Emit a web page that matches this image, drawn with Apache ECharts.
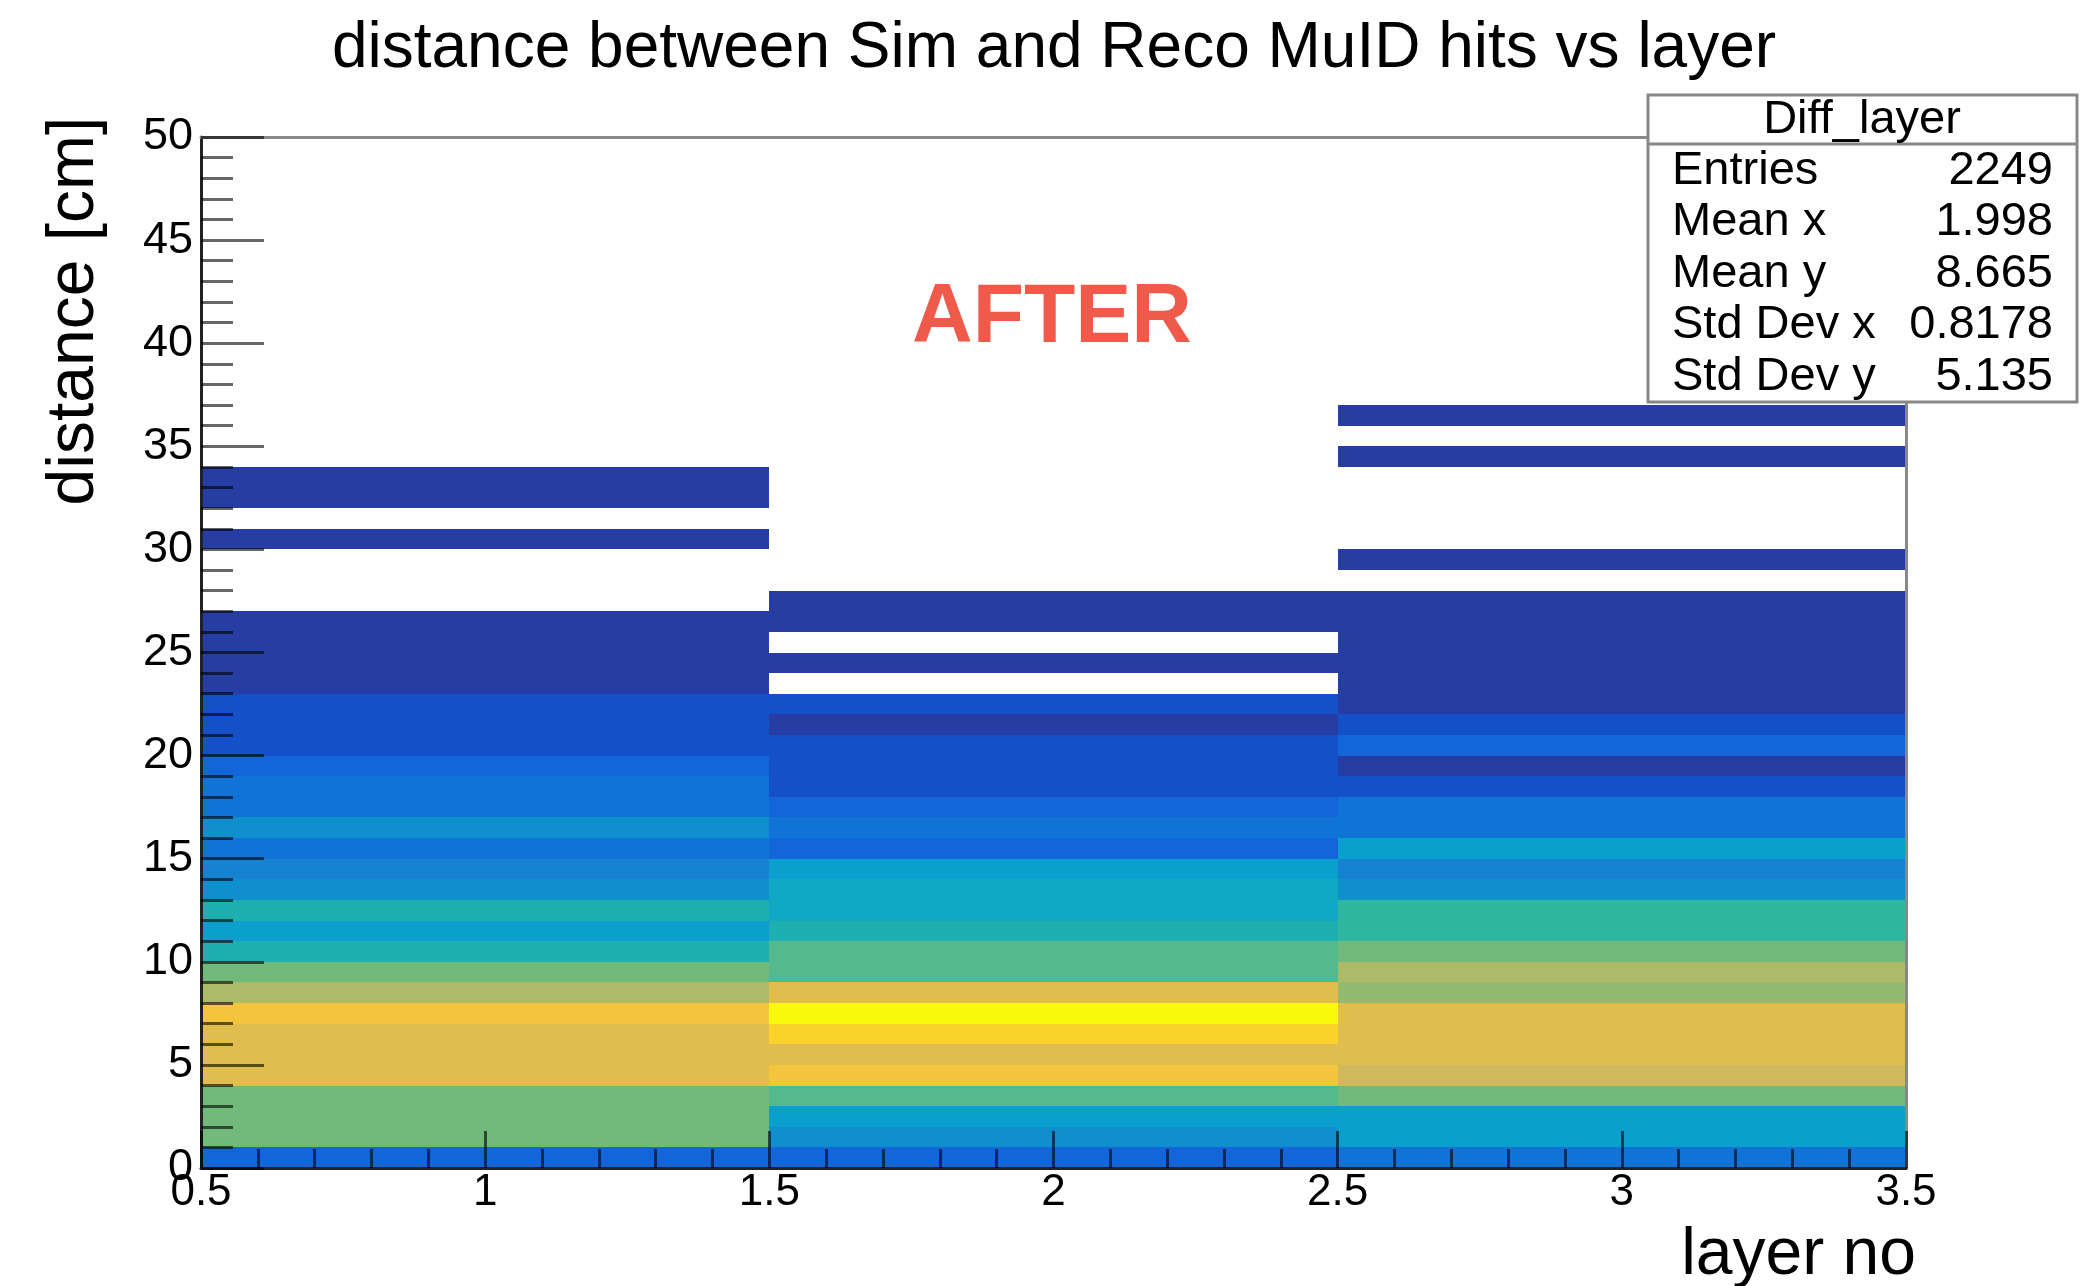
<!DOCTYPE html>
<html>
<head>
<meta charset="utf-8">
<script src="https://cdn.jsdelivr.net/npm/echarts@6/dist/echarts.min.js"></script>
<style>
html,body{margin:0;padding:0;background:#fff;}
#chart{width:2084px;height:1286px;}
</style>
</head>
<body>
<div id="chart"></div>
<script>
// ---------------- data ----------------
const chartTitle = 'distance between Sim and Reco MuID hits vs layer';
const xTitle = 'layer no';
const yTitle = 'distance [cm]';
const overlayText = 'AFTER';
const layers = [1, 2, 3];            // x-bin centres (bin width 1)
const distBinWidth = 1;              // y-bin width [cm], bins start at 0
// entries per 1-cm distance bin (bins 0..49) for each layer
const countsLayer1 = [10,48,49,47,65,64,66,70,57,48, 36,27,35,23,19,15,22,14,15,11, 6,7,5,3,2,3,2,0,0,0, 1,0,2,1,0,0,0,0,0,0, 0,0,0,0,0,0,0,0,0,0];
const countsLayer2 = [10,23,27,44,69,64,74,83,65,45, 43,36,32,31,27,11,14,10,6,7, 5,3,5,0,2,0,1,2,0,0, 0,0,0,0,0,0,0,0,0,0, 0,0,0,0,0,0,0,0,0,0];
const countsLayer3 = [15,27,28,48,61,65,66,64,53,57, 49,40,39,23,19,27,15,14,6,3, 10,6,3,2,3,2,2,1,0,1, 0,0,0,0,1,0,1,0,0,0, 0,0,0,0,0,0,0,0,0,0];
const statsName = 'Diff_layer';
const statsLabels = ['Entries', 'Mean x', 'Mean y', 'Std Dev x', 'Std Dev y'];
const statsValues = ['2249', '1.998', '8.665', '0.8178', '5.135'];
const zMax = 84;
const nContours = 20;
// ROOT kBird palette sampled at the 20 contour levels
const palette = ['#263ea3','#1450c8','#1266d9','#1273d6','#1583d2','#108fcf','#0a9fcc','#11a8c6','#1eafb0','#2fb7a0',
                 '#52ba8c','#72ba7c','#92bb70','#adba67','#d0b95c','#e0bd4d','#f3c43c','#fbd22c','#fbe61d','#f9f90e'];
// ---------------------------------------

const allCounts = [countsLayer1, countsLayer2, countsLayer3];
const cells = [];
layers.forEach(function (lx, i) {
  allCounts[i].forEach(function (c, b) {
    if (c > 0) cells.push([lx, b * distBinWidth, c]);
  });
});

const pieces = [];
const step = zMax / nContours;
for (let i = 0; i < nContours; i++) {
  const p = { gte: i * step, color: palette[i] };
  if (i < nContours - 1) p.lt = (i + 1) * step; else p.lte = zMax;
  pieces.push(p);
}

const FONT = 'Liberation Sans, Arial, Helvetica, sans-serif';
const chart = echarts.init(document.getElementById('chart'));
const tickStyle = { color: 'rgba(0,0,0,0.6)', width: 3 };

chart.setOption({
  animation: false,
  backgroundColor: '#ffffff',
  grid: { left: 201, right: 178, top: 137, bottom: 118, containLabel: false, outerBoundsMode: 'none', show: false },
  visualMap: { type: 'piecewise', show: false, seriesIndex: 0, dimension: 2, pieces: pieces },
  xAxis: [{
    type: 'value', min: 0.5, max: 3.5, interval: 0.5, position: 'bottom', z: 10,
    axisLine: { show: true, onZero: false, lineStyle: { color: '#222', width: 3 } },
    axisTick: { show: true, inside: true, length: 37, lineStyle: tickStyle },
    minorTick: { show: true, splitNumber: 5, length: 19, lineStyle: tickStyle },
    splitLine: { show: false }, minorSplitLine: { show: false },
    axisLabel: { show: true, fontSize: 44, color: '#000', fontFamily: FONT, margin: 3, showMinLabel: true, showMaxLabel: true }
  }, {
    type: 'value', min: 0.5, max: 3.5, position: 'top', z: 10,
    axisLine: { show: true, onZero: false, lineStyle: { color: '#888', width: 3 } },
    axisTick: { show: false }, axisLabel: { show: false }, splitLine: { show: false }
  }],
  yAxis: [{
    type: 'value', min: 0, max: 50, interval: 5, position: 'left', z: 10,
    axisLine: { show: true, onZero: false, lineStyle: { color: '#222', width: 3 } },
    axisTick: { show: true, inside: true, length: 63, lineStyle: tickStyle },
    minorTick: { show: true, splitNumber: 5, length: 32, lineStyle: tickStyle },
    splitLine: { show: false }, minorSplitLine: { show: false },
    axisLabel: { show: true, fontSize: 45, color: '#000', fontFamily: FONT, margin: 8, showMinLabel: true, showMaxLabel: true }
  }, {
    type: 'value', min: 0, max: 50, position: 'right', z: 10,
    axisLine: { show: true, onZero: false, lineStyle: { color: '#888', width: 3 } },
    axisTick: { show: false }, axisLabel: { show: false }, splitLine: { show: false }
  }],
  series: [{
    type: 'custom',
    xAxisIndex: 0, yAxisIndex: 0,
    data: cells,
    encode: { x: 0, y: 1 },
    renderItem: function (params, api) {
      const x = api.value(0), y = api.value(1);
      const p0 = api.coord([x - 0.5, y + distBinWidth]);
      const p1 = api.coord([x + 0.5, y]);
      const x0 = Math.round(p0[0]), y0 = Math.round(p0[1]);
      const x1 = Math.round(p1[0]), y1 = Math.round(p1[1]);
      return {
        type: 'rect',
        shape: { x: x0, y: y0, width: x1 - x0, height: y1 - y0 },
        style: { fill: api.visual('color') }
      };
    }
  }],
  graphic: [
    { type: 'text', x: 1054, y: 49, z: 50, style: { text: chartTitle, font: 'normal 64px ' + FONT, fill: '#000', align: 'center', verticalAlign: 'middle' } },
    { type: 'text', x: 1052, y: 319, z: 50, style: { text: overlayText, font: 'bold 84px ' + FONT, fill: '#ef5a4a', align: 'center', verticalAlign: 'middle' } },
    { type: 'text', x: 1916, y: 1256, z: 50, style: { text: xTitle, font: 'normal 66px ' + FONT, fill: '#000', align: 'right', verticalAlign: 'middle' } },
    { type: 'text', x: 75, y: 311, rotation: Math.PI / 2, z: 50, style: { text: yTitle, font: 'normal 66px ' + FONT, fill: '#000', align: 'center', verticalAlign: 'middle' } },
    {
      type: 'group', z: 100,
      children: [
        { type: 'rect', z: 100, shape: { x: 1648, y: 95, width: 429, height: 307 }, style: { fill: '#fff', stroke: '#888', lineWidth: 3 } },
        { type: 'line', z: 101, shape: { x1: 1648, y1: 144, x2: 2077, y2: 144 }, style: { stroke: '#888', lineWidth: 3 } },
        { type: 'text', z: 101, x: 1862, y: 120, style: { text: statsName, font: 'normal 47px ' + FONT, fill: '#000', align: 'center', verticalAlign: 'middle' } }
      ].concat(statsLabels.map(function (lab, i) {
        return { type: 'text', z: 101, x: 1672, y: 171 + i * 51.5, style: { text: lab, font: 'normal 47px ' + FONT, fill: '#000', align: 'left', verticalAlign: 'middle' } };
      })).concat(statsValues.map(function (val, i) {
        return { type: 'text', z: 101, x: 2053, y: 171 + i * 51.5, style: { text: val, font: 'normal 47px ' + FONT, fill: '#000', align: 'right', verticalAlign: 'middle' } };
      }))
    }
  ]
});
</script>
</body>
</html>
